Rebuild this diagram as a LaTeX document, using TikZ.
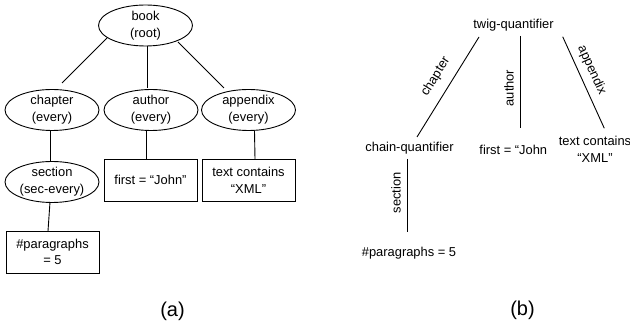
\documentclass[tikz,border=0pt]{standalone}
\usepackage{fontspec}
\setmainfont{Liberation Sans}
\usetikzlibrary{shapes.geometric,calc}
\begin{document}
\begin{tikzpicture}[x=1pt,y=-1pt,line width=0.9pt,
  every node/.style={font=\fontsize{12.9}{16.7}\selectfont,text=black},
  ell/.style={ellipse,draw,minimum width=94pt,minimum height=41pt,inner sep=0pt},
  elltext/.style={align=center,inner sep=0pt},
  box/.style={rectangle,draw,minimum width=93pt,minimum height=42pt,align=center,inner sep=2pt},
  plain/.style={align=center,inner sep=1pt},
  edgelbl/.style={inner sep=1pt},
  caption/.style={font=\fontsize{20}{24}\selectfont}]
\useasboundingbox (0,0) rectangle (630,328);
% ---------- (a) ----------
\node[ell,label={[elltext]center:{book\\(root)}}] (book) at (145.5,25.5) {};
\node[ell,label={[elltext]center:{chapter\\(every)}}] (chap) at (52,110) {};
\node[ell,label={[elltext]center:{author\\(every)}}] (auth) at (151,110) {};
\node[ell,label={[elltext]center:{appendix\\(every)}}] (appx) at (248.5,110) {};
\node[ell,label={[elltext]center:{section\\(sec-every)}}] (sect) at (52,182) {};
\node[box] (para) at (52.5,252) {\#paragraphs\\= 5};
\node[box] (first) at (150.5,180) {first = “John”};
\node[box] (txtc) at (248.5,180) {text contains\\“XML”};
\draw ($(book)+(-38.5,12.5)$) -- ($(chap)+(10,-27)$);
\draw ($(book)+(1.5,20.5)$) -- ($(auth)+(-4,-22)$);
\draw ($(book)+(32.5,16.5)$) -- ($(appx)+(-24.5,-22)$);
\draw ($(chap)+(-2,21)$) -- ($(sect)+(-2,-20)$);
\draw ($(sect)+(-2,20)$) -- ($(para)+(-4.5,-21)$);
\draw ($(auth)+(-5,21)$) -- ($(first)+(-4.5,-21)$);
\draw ($(appx)+(6,21)$) -- ($(txtc)+(6.5,-21)$);
\node[caption] (capa) at (172.5,311.5) {(a)};
% ---------- (b) ----------
\node[plain] (twig) at (513.5,25) {twig-quantifier};
\node[plain] (chain) at (409.5,148) {chain-quantifier};
\node[plain] (john) at (513.3,149.5) {first = “John};
\node[plain] (txtb) at (595,149.5) {text contains\\“XML”};
\node[plain] (parb) at (409,253) {\#paragraphs = 5};
\draw ($(twig)+(-34.5,12)$) -- ($(chain)+(7.5,-11)$);
\draw ($(twig)+(7.2,11)$) -- ($(john)+(7.4,-21.5)$);
\draw ($(twig)+(49.2,11.7)$) -- ($(txtb)+(9.3,-21.2)$);
\draw ($(chain)+(-2.5,11)$) -- ($(parb)+(-2,-21)$);
\node[edgelbl,rotate=58] (lchap) at (435.7,76.7) {chapter};
\node[edgelbl,rotate=90] (lauth) at (509,88) {author};
\node[edgelbl,rotate=-65.6] (lappx) at (591.7,70) {appendix};
\node[edgelbl,rotate=90] (lsect) at (396,193) {section};
\node[caption] (capb) at (522.5,310) {(b)};
\end{tikzpicture}
\end{document}
